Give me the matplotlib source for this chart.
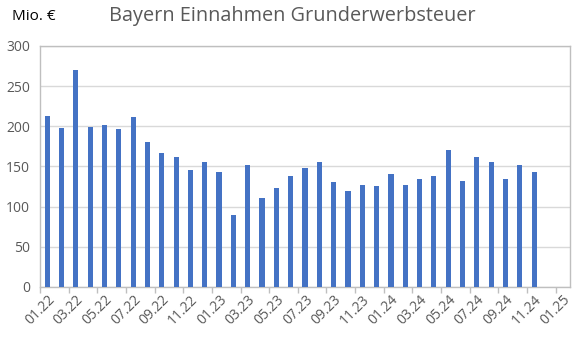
import matplotlib
matplotlib.use("Agg")
import matplotlib.pyplot as plt
import numpy as np

# Monthly categories 01.22 .. 01.25
months = [f"{m:02d}.{y}" for y in (22, 23, 24) for m in range(1, 13)] + ["01.25"]

# Grunderwerbsteuer revenue Bavaria, Mio. € (01.22 .. 11.24)
values = [213, 198, 270, 199, 202, 197, 211, 180, 167, 162, 146, 156,
          143, 90, 152, 111, 123, 138, 148, 155, 131, 120, 127, 126,
          141, 127, 135, 138, 171, 132, 162, 155, 135, 152, 143]

title = "Bayern Einnahmen Grunderwerbsteuer"
unit_label = "Mio. €"
yticks = [0, 50, 100, 150, 200, 250, 300]

plt.rcParams['font.family'] = ['Open Sans', 'DejaVu Sans']

fig = plt.figure(figsize=(5.79, 3.39), dpi=100)
ax = fig.add_axes([40 / 579, 52 / 339, 530 / 579, 241 / 339])

x = np.arange(len(months))
ax.bar(x[:len(values)], values, width=0.36, color="#4472C4", zorder=3)

ax.set_xlim(-0.5, len(months) - 0.5)
ax.set_ylim(0, 300)
ax.set_yticks(yticks)
ax.set_yticklabels([str(t) for t in yticks], fontsize=10, color="#595959")
ax.grid(axis="y", color="#D9D9D9", linewidth=1, zorder=0)
ax.tick_params(axis="y", length=0, pad=7)

# category labels every second month, tick marks between categories
label_pos = x[::2]
ax.set_xticks(label_pos)
ax.set_xticklabels([months[i] for i in label_pos], rotation=45, ha="right",
                   rotation_mode="anchor", fontsize=10, color="#595959")
ax.tick_params(axis="x", length=0, pad=4)
ax.set_xticks(np.arange(-0.5, len(months) - 1, 2), minor=True)
ax.tick_params(axis="x", which="minor", length=4, color="#BFBFBF", width=1)

for s in ax.spines.values():
    s.set_color("#BFBFBF")
    s.set_linewidth(1)

fig.text(292 / 579, 1 - 16 / 339, title, ha="center", va="center",
         fontsize=14.3, color="#595959")
fig.text(12 / 579, 1 - 17 / 339, unit_label, ha="left", va="center",
         fontsize=11, color="black")

fig.savefig("out.png", dpi=100)
